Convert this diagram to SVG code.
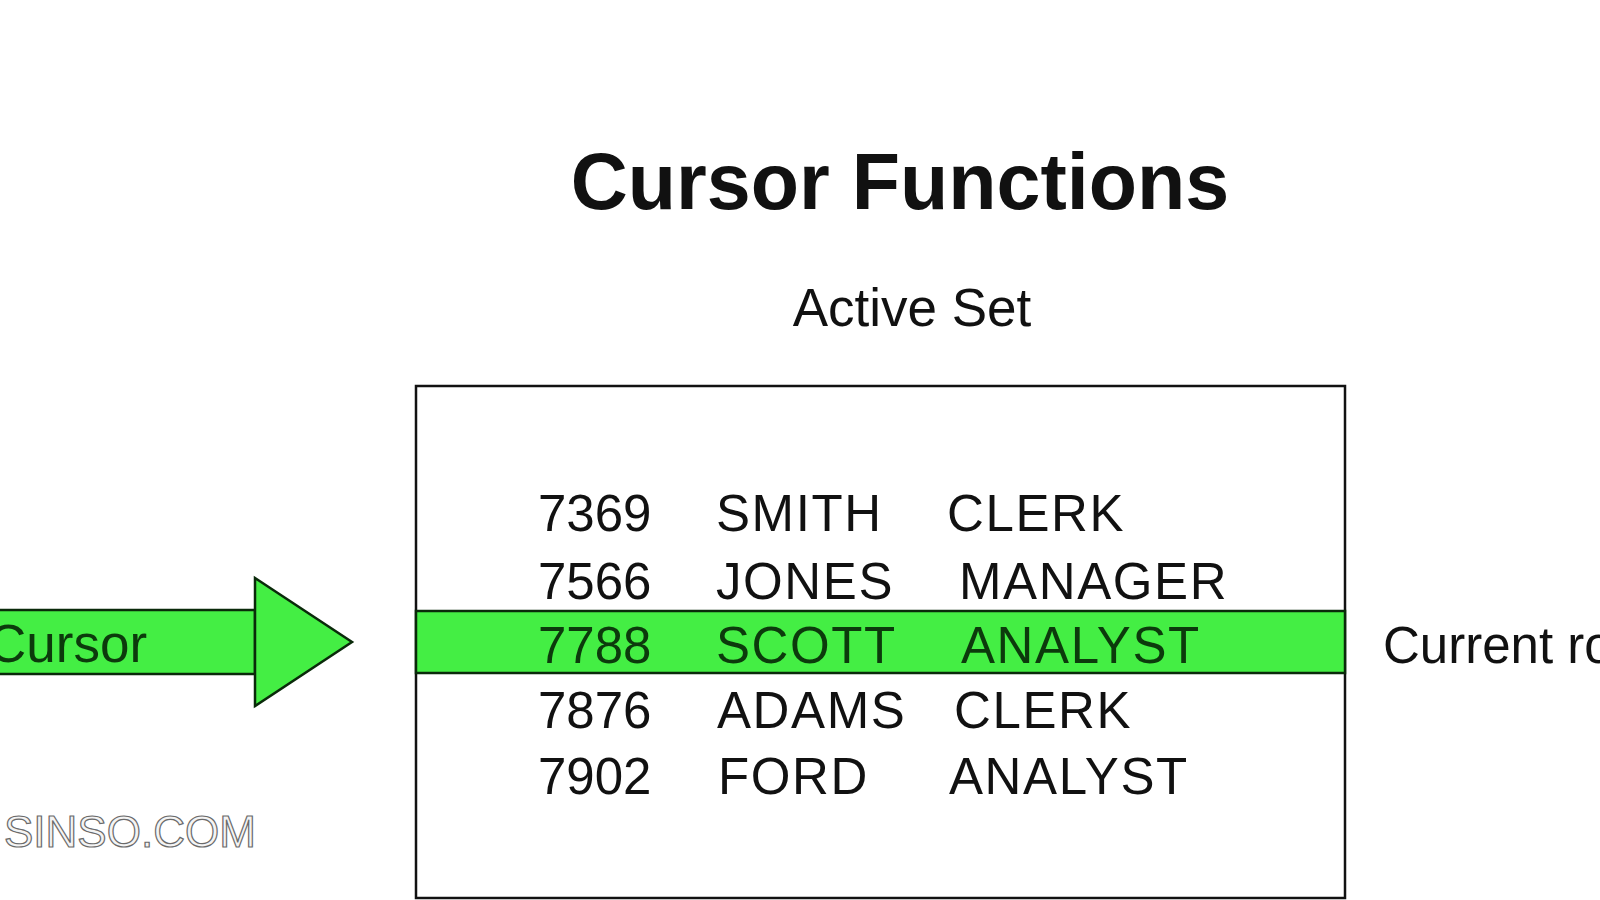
<svg xmlns="http://www.w3.org/2000/svg" width="1600" height="900" viewBox="0 0 1600 900">
<style>
.t{font-family:"Liberation Sans",Arial,sans-serif;fill:#111}
.row{font-size:51px}
.w{letter-spacing:1.6px}
.hl{fill:#0c3a0c}
.g{fill:#44ee44;stroke:#0a2a0a;stroke-width:2.5}
</style>
<rect width="1600" height="900" fill="#fff"/>
<text class="t" x="900" y="209" font-size="79" font-weight="bold" text-anchor="middle">Cursor Functions</text>
<text class="t" x="912" y="326" font-size="53" text-anchor="middle">Active Set</text>
<g id="activeSet">
<rect x="416" y="386" width="929" height="512" fill="#fff" stroke="#111" stroke-width="2.5"/>
<rect class="g" x="416" y="611" width="929" height="62"/>
<g class="t row">
<text x="538" y="531">7369</text><text class="w" x="716" y="531">SMITH</text><text class="w" x="947" y="531">CLERK</text>
<text x="538" y="599">7566</text><text class="w" x="716" y="599">JONES</text><text class="w" x="959" y="599">MANAGER</text>
<text class="hl" x="538" y="663">7788</text><text class="hl w" x="716" y="663">SCOTT</text><text class="hl w" x="961" y="663">ANALYST</text>
<text x="538" y="728">7876</text><text class="w" x="717" y="728">ADAMS</text><text class="w" x="954" y="728">CLERK</text>
<text x="538" y="794">7902</text><text class="w" x="718" y="794">FORD</text><text class="w" x="949" y="794">ANALYST</text>
</g>
</g>
<g id="cursor">
<rect class="g" x="-5" y="610" width="260" height="64"/>
<polygon class="g" points="255,578 352,642 255,706"/>
<text class="t hl" x="-12" y="662" font-size="53">Cursor</text>
</g>
<g id="currentRow">
<text class="t" x="1383" y="663" font-size="51">Current row</text>
</g>
<text x="4" y="847" font-family="Liberation Sans,Arial,sans-serif" font-size="44" fill="#f4f4f4" stroke="#6a6a6a" stroke-width="1.2">SINSO.COM</text>
<g id="connectors"></g>
</svg>
